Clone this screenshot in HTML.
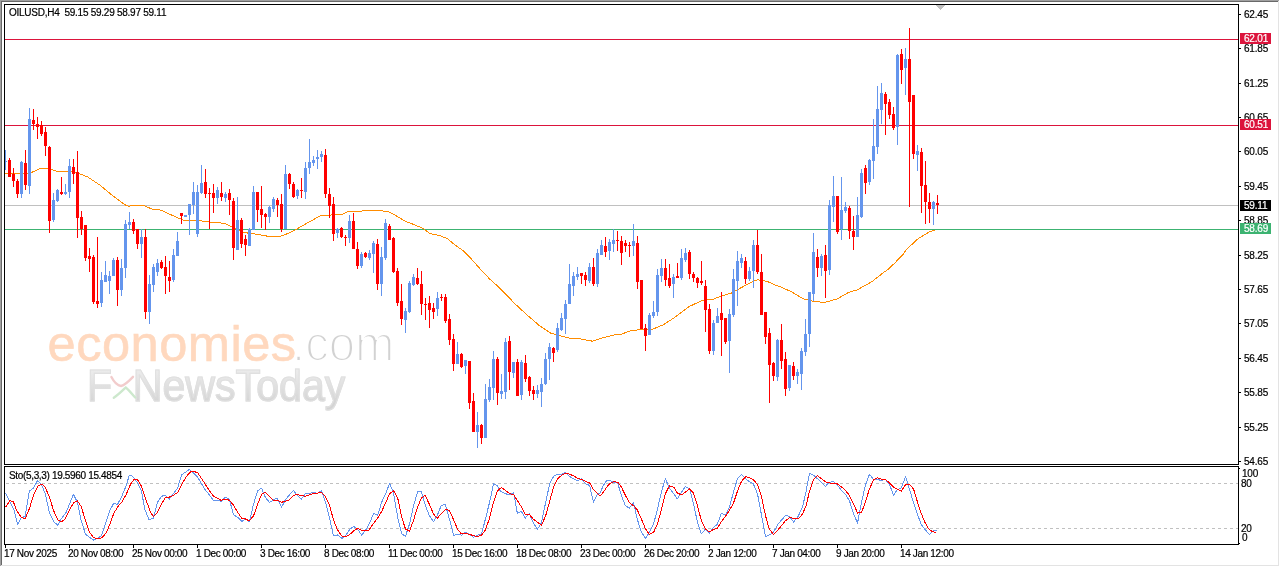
<!DOCTYPE html>
<html><head><meta charset="utf-8"><title>OILUSD,H4</title>
<style>
html,body{margin:0;padding:0;background:#fff;}
body{width:1280px;height:567px;position:relative;overflow:hidden;font-family:"Liberation Sans",sans-serif;}
.t{position:absolute;font-size:10px;line-height:12px;color:#000;white-space:pre;letter-spacing:-0.25px;-webkit-text-stroke:0.2px #000;}
.p{position:absolute;left:1244px;font-size:10px;line-height:12px;color:#000;letter-spacing:-0.2px;-webkit-text-stroke:0.2px #000;white-space:pre;}
.box{position:absolute;left:1240px;width:31px;height:11px;}
.box span{position:absolute;left:4px;top:0px;font-size:10px;line-height:12px;color:#fff;letter-spacing:-0.2px;-webkit-text-stroke:0.2px #fff;}
.wm{position:absolute;white-space:pre;transform-origin:0 0;}
</style></head><body>

<div class="wm" style="left:47.5px;top:316px;font-size:50.6px;line-height:56px;color:#ffd8be;-webkit-text-stroke:0.6px #ffd8be;letter-spacing:0.5px;">economies</div>
<div class="wm" style="left:292px;top:316px;font-size:50.6px;line-height:56px;color:#d2d2d2;-webkit-text-stroke:2.2px #fff;transform:scaleX(0.935);">.com</div>
<div class="wm" style="left:87px;top:361px;font-size:44px;line-height:50px;color:transparent;background:linear-gradient(#ebebeb 20%,#d4d4d4 85%);-webkit-background-clip:text;background-clip:text;-webkit-text-stroke:1.1px #e0e0e0;transform:scaleX(0.935);">F<span style="visibility:hidden">x</span>NewsToday</div>
<svg class="wm" style="left:108px;top:372px" width="30" height="30" viewBox="0 0 30 30"><path d="M3.4 5 C6 10,9 13.5,13 14 C17 13,21 9,25 4.8" fill="none" stroke="#f2cccc" stroke-width="2.4" stroke-linecap="round"/><path d="M5.8 25.8 C10 23,14 19,17.7 15.5 C21 18,24 22,27.2 25.5" fill="none" stroke="#cde8cd" stroke-width="2.4" stroke-linecap="round"/></svg>
<svg width="1280" height="567" viewBox="0 0 1280 567" style="position:absolute;left:0;top:0">
<g shape-rendering="crispEdges">
<rect x="5" y="39" width="1233" height="1" fill="#dc143c"/>
<rect x="5" y="125" width="1233" height="1" fill="#dc143c"/>
<rect x="5" y="205" width="1233" height="1" fill="#c0c0c0"/>
<rect x="5" y="229" width="1233" height="1" fill="#3cb371"/>
</g>
<polyline points="5.0,173.4 5.5,173.4 29.5,173.4 40.0,168.5 48.1,168.5 56.2,171.2 75.0,172.0 87.5,176.9 100.0,185.2 112.5,195.6 125.0,204.8 128.8,206.3 133.5,205.3 143.5,205.3 152.4,209.3 160.8,210.1 177.5,217.7 184.2,220.5 201.0,220.8 210.0,222.1 225.1,223.4 233.5,228.0 243.5,232.5 256.9,234.2 268.7,236.4 280.4,236.4 290.5,232.5 297.1,228.8 308.9,222.1 320.6,215.7 342.4,214.2 349.1,211.2 360.8,211.2 365.0,210.4 379.2,210.4 389.3,212.0 395.0,215.0 405.0,221.2 412.5,224.0 422.5,228.1 430.0,233.5 440.0,235.6 447.5,238.8 455.0,245.0 463.8,251.2 471.2,258.8 480.0,268.8 490.0,279.4 497.5,285.9 515.5,304.3 527.3,315.2 539.0,325.3 550.8,333.1 557.5,335.0 572.5,339.0 577.5,338.3 592.5,341.2 604.4,337.3 613.9,335.0 620.0,334.8 630.0,330.9 640.1,329.6 651.8,329.6 663.5,324.7 675.3,317.0 689.0,306.6 702.4,300.4 712.4,299.5 720.8,296.2 730.9,293.3 740.9,287.8 752.6,281.6 757.7,279.9 761.0,280.3 767.7,281.6 773.9,284.5 781.7,287.4 791.8,291.9 803.5,299.0 808.5,299.5 813.5,301.6 825.3,302.3 837.0,299.0 848.7,292.3 857.1,289.9 872.2,281.5 883.9,272.2 887.5,269.8 894.9,262.9 903.4,253.9 907.6,248.1 911.9,244.4 918.2,238.6 923.5,235.4 928.8,232.2 934.5,230.2" fill="none" stroke="#ff8c00" stroke-width="1" stroke-linejoin="round" shape-rendering="crispEdges"/>
<g shape-rendering="crispEdges">
<rect x="5" y="150" width="1" height="20" fill="#6495ed"/>
<rect x="4" y="161" width="3" height="1" fill="#6495ed"/>
<rect x="9" y="158" width="1" height="19" fill="#ff0000"/>
<rect x="8" y="160" width="3" height="17" fill="#ff0000"/>
<rect x="13" y="168" width="1" height="19" fill="#ff0000"/>
<rect x="12" y="174" width="3" height="7" fill="#ff0000"/>
<rect x="17" y="179" width="1" height="19" fill="#ff0000"/>
<rect x="16" y="181" width="3" height="13" fill="#ff0000"/>
<rect x="21" y="161" width="1" height="37" fill="#6495ed"/>
<rect x="20" y="162" width="3" height="32" fill="#6495ed"/>
<rect x="25" y="150" width="1" height="40" fill="#ff0000"/>
<rect x="24" y="163" width="3" height="22" fill="#ff0000"/>
<rect x="29" y="108" width="1" height="86" fill="#6495ed"/>
<rect x="28" y="119" width="3" height="67" fill="#6495ed"/>
<rect x="33" y="109" width="1" height="21" fill="#ff0000"/>
<rect x="32" y="120" width="3" height="4" fill="#ff0000"/>
<rect x="37" y="117" width="1" height="22" fill="#ff0000"/>
<rect x="36" y="124" width="3" height="3" fill="#ff0000"/>
<rect x="41" y="121" width="1" height="15" fill="#ff0000"/>
<rect x="40" y="125" width="3" height="9" fill="#ff0000"/>
<rect x="45" y="127" width="1" height="29" fill="#ff0000"/>
<rect x="44" y="132" width="3" height="14" fill="#ff0000"/>
<rect x="49" y="146" width="1" height="87" fill="#ff0000"/>
<rect x="48" y="147" width="3" height="74" fill="#ff0000"/>
<rect x="53" y="193" width="1" height="29" fill="#6495ed"/>
<rect x="52" y="200" width="3" height="20" fill="#6495ed"/>
<rect x="57" y="189" width="1" height="13" fill="#6495ed"/>
<rect x="56" y="190" width="3" height="11" fill="#6495ed"/>
<rect x="61" y="177" width="1" height="18" fill="#ff0000"/>
<rect x="60" y="192" width="3" height="2" fill="#ff0000"/>
<rect x="65" y="184" width="1" height="11" fill="#6495ed"/>
<rect x="64" y="192" width="3" height="2" fill="#6495ed"/>
<rect x="69" y="159" width="1" height="39" fill="#6495ed"/>
<rect x="68" y="166" width="3" height="26" fill="#6495ed"/>
<rect x="73" y="159" width="1" height="25" fill="#ff0000"/>
<rect x="72" y="167" width="3" height="7" fill="#ff0000"/>
<rect x="77" y="151" width="1" height="87" fill="#ff0000"/>
<rect x="76" y="172" width="3" height="46" fill="#ff0000"/>
<rect x="81" y="211" width="1" height="24" fill="#ff0000"/>
<rect x="80" y="217" width="3" height="12" fill="#ff0000"/>
<rect x="85" y="225" width="1" height="36" fill="#ff0000"/>
<rect x="84" y="225" width="3" height="33" fill="#ff0000"/>
<rect x="89" y="248" width="1" height="24" fill="#ff0000"/>
<rect x="88" y="256" width="3" height="3" fill="#ff0000"/>
<rect x="93" y="255" width="1" height="49" fill="#ff0000"/>
<rect x="92" y="257" width="3" height="45" fill="#ff0000"/>
<rect x="97" y="237" width="1" height="71" fill="#ff0000"/>
<rect x="96" y="301" width="3" height="3" fill="#ff0000"/>
<rect x="101" y="272" width="1" height="35" fill="#6495ed"/>
<rect x="100" y="280" width="3" height="23" fill="#6495ed"/>
<rect x="105" y="261" width="1" height="21" fill="#6495ed"/>
<rect x="104" y="275" width="3" height="7" fill="#6495ed"/>
<rect x="109" y="271" width="1" height="23" fill="#6495ed"/>
<rect x="108" y="276" width="3" height="5" fill="#6495ed"/>
<rect x="113" y="258" width="1" height="18" fill="#6495ed"/>
<rect x="112" y="260" width="3" height="16" fill="#6495ed"/>
<rect x="117" y="257" width="1" height="49" fill="#ff0000"/>
<rect x="116" y="260" width="3" height="30" fill="#ff0000"/>
<rect x="121" y="259" width="1" height="37" fill="#6495ed"/>
<rect x="120" y="268" width="3" height="22" fill="#6495ed"/>
<rect x="125" y="220" width="1" height="58" fill="#6495ed"/>
<rect x="124" y="224" width="3" height="44" fill="#6495ed"/>
<rect x="129" y="212" width="1" height="17" fill="#6495ed"/>
<rect x="128" y="222" width="3" height="3" fill="#6495ed"/>
<rect x="133" y="219" width="1" height="15" fill="#ff0000"/>
<rect x="132" y="222" width="3" height="9" fill="#ff0000"/>
<rect x="137" y="229" width="1" height="20" fill="#ff0000"/>
<rect x="136" y="229" width="3" height="15" fill="#ff0000"/>
<rect x="141" y="229" width="1" height="29" fill="#6495ed"/>
<rect x="140" y="237" width="3" height="7" fill="#6495ed"/>
<rect x="145" y="229" width="1" height="90" fill="#ff0000"/>
<rect x="144" y="237" width="3" height="75" fill="#ff0000"/>
<rect x="149" y="275" width="1" height="49" fill="#6495ed"/>
<rect x="148" y="284" width="3" height="28" fill="#6495ed"/>
<rect x="153" y="264" width="1" height="28" fill="#6495ed"/>
<rect x="152" y="267" width="3" height="18" fill="#6495ed"/>
<rect x="157" y="259" width="1" height="17" fill="#6495ed"/>
<rect x="156" y="263" width="3" height="9" fill="#6495ed"/>
<rect x="161" y="260" width="1" height="9" fill="#ff0000"/>
<rect x="160" y="262" width="3" height="6" fill="#ff0000"/>
<rect x="165" y="256" width="1" height="38" fill="#ff0000"/>
<rect x="164" y="267" width="3" height="9" fill="#ff0000"/>
<rect x="169" y="261" width="1" height="31" fill="#ff0000"/>
<rect x="168" y="277" width="3" height="4" fill="#ff0000"/>
<rect x="173" y="249" width="1" height="33" fill="#6495ed"/>
<rect x="172" y="255" width="3" height="25" fill="#6495ed"/>
<rect x="177" y="232" width="1" height="24" fill="#6495ed"/>
<rect x="176" y="241" width="3" height="15" fill="#6495ed"/>
<rect x="181" y="213" width="1" height="11" fill="#ff0000"/>
<rect x="180" y="213" width="3" height="3" fill="#ff0000"/>
<rect x="185" y="215" width="1" height="2" fill="#6495ed"/>
<rect x="184" y="215" width="3" height="2" fill="#6495ed"/>
<rect x="189" y="204" width="1" height="31" fill="#6495ed"/>
<rect x="188" y="204" width="3" height="11" fill="#6495ed"/>
<rect x="193" y="182" width="1" height="32" fill="#6495ed"/>
<rect x="192" y="192" width="3" height="13" fill="#6495ed"/>
<rect x="197" y="185" width="1" height="52" fill="#6495ed"/>
<rect x="196" y="192" width="3" height="42" fill="#6495ed"/>
<rect x="201" y="165" width="1" height="29" fill="#6495ed"/>
<rect x="200" y="183" width="3" height="10" fill="#6495ed"/>
<rect x="205" y="169" width="1" height="29" fill="#ff0000"/>
<rect x="204" y="182" width="3" height="12" fill="#ff0000"/>
<rect x="209" y="188" width="1" height="41" fill="#ff0000"/>
<rect x="208" y="193" width="3" height="1" fill="#ff0000"/>
<rect x="213" y="184" width="1" height="29" fill="#ff0000"/>
<rect x="212" y="193" width="3" height="5" fill="#ff0000"/>
<rect x="217" y="187" width="1" height="17" fill="#6495ed"/>
<rect x="216" y="190" width="3" height="8" fill="#6495ed"/>
<rect x="221" y="182" width="1" height="19" fill="#ff0000"/>
<rect x="220" y="193" width="3" height="4" fill="#ff0000"/>
<rect x="225" y="192" width="1" height="10" fill="#6495ed"/>
<rect x="224" y="194" width="3" height="4" fill="#6495ed"/>
<rect x="229" y="189" width="1" height="26" fill="#ff0000"/>
<rect x="228" y="193" width="3" height="7" fill="#ff0000"/>
<rect x="233" y="198" width="1" height="62" fill="#ff0000"/>
<rect x="232" y="201" width="3" height="47" fill="#ff0000"/>
<rect x="237" y="197" width="1" height="53" fill="#6495ed"/>
<rect x="236" y="220" width="3" height="30" fill="#6495ed"/>
<rect x="241" y="218" width="1" height="30" fill="#ff0000"/>
<rect x="240" y="220" width="3" height="24" fill="#ff0000"/>
<rect x="245" y="235" width="1" height="21" fill="#ff0000"/>
<rect x="244" y="239" width="3" height="6" fill="#ff0000"/>
<rect x="249" y="228" width="1" height="18" fill="#6495ed"/>
<rect x="248" y="229" width="3" height="17" fill="#6495ed"/>
<rect x="253" y="186" width="1" height="44" fill="#6495ed"/>
<rect x="252" y="192" width="3" height="38" fill="#6495ed"/>
<rect x="257" y="192" width="1" height="30" fill="#ff0000"/>
<rect x="256" y="192" width="3" height="18" fill="#ff0000"/>
<rect x="261" y="186" width="1" height="42" fill="#ff0000"/>
<rect x="260" y="209" width="3" height="6" fill="#ff0000"/>
<rect x="265" y="213" width="1" height="17" fill="#ff0000"/>
<rect x="264" y="214" width="3" height="3" fill="#ff0000"/>
<rect x="269" y="206" width="1" height="17" fill="#6495ed"/>
<rect x="268" y="207" width="3" height="10" fill="#6495ed"/>
<rect x="273" y="197" width="1" height="15" fill="#6495ed"/>
<rect x="272" y="199" width="3" height="10" fill="#6495ed"/>
<rect x="277" y="198" width="1" height="19" fill="#ff0000"/>
<rect x="276" y="200" width="3" height="5" fill="#ff0000"/>
<rect x="281" y="194" width="1" height="38" fill="#ff0000"/>
<rect x="280" y="204" width="3" height="25" fill="#ff0000"/>
<rect x="285" y="165" width="1" height="64" fill="#6495ed"/>
<rect x="284" y="174" width="3" height="55" fill="#6495ed"/>
<rect x="289" y="173" width="1" height="16" fill="#ff0000"/>
<rect x="288" y="174" width="3" height="10" fill="#ff0000"/>
<rect x="293" y="182" width="1" height="16" fill="#ff0000"/>
<rect x="292" y="184" width="3" height="13" fill="#ff0000"/>
<rect x="297" y="189" width="1" height="10" fill="#6495ed"/>
<rect x="296" y="190" width="3" height="6" fill="#6495ed"/>
<rect x="301" y="178" width="1" height="20" fill="#ff0000"/>
<rect x="300" y="190" width="3" height="1" fill="#ff0000"/>
<rect x="305" y="162" width="1" height="37" fill="#6495ed"/>
<rect x="304" y="168" width="3" height="24" fill="#6495ed"/>
<rect x="309" y="139" width="1" height="35" fill="#6495ed"/>
<rect x="308" y="162" width="3" height="6" fill="#6495ed"/>
<rect x="313" y="156" width="1" height="10" fill="#6495ed"/>
<rect x="312" y="160" width="3" height="3" fill="#6495ed"/>
<rect x="317" y="150" width="1" height="19" fill="#6495ed"/>
<rect x="316" y="157" width="3" height="2" fill="#6495ed"/>
<rect x="321" y="151" width="1" height="11" fill="#6495ed"/>
<rect x="320" y="154" width="3" height="3" fill="#6495ed"/>
<rect x="325" y="149" width="1" height="49" fill="#ff0000"/>
<rect x="324" y="155" width="3" height="39" fill="#ff0000"/>
<rect x="329" y="188" width="1" height="30" fill="#ff0000"/>
<rect x="328" y="194" width="3" height="12" fill="#ff0000"/>
<rect x="333" y="197" width="1" height="44" fill="#ff0000"/>
<rect x="332" y="204" width="3" height="30" fill="#ff0000"/>
<rect x="337" y="228" width="1" height="10" fill="#6495ed"/>
<rect x="336" y="229" width="3" height="4" fill="#6495ed"/>
<rect x="341" y="227" width="1" height="11" fill="#ff0000"/>
<rect x="340" y="228" width="3" height="9" fill="#ff0000"/>
<rect x="345" y="235" width="1" height="11" fill="#ff0000"/>
<rect x="344" y="237" width="3" height="1" fill="#ff0000"/>
<rect x="349" y="215" width="1" height="28" fill="#6495ed"/>
<rect x="348" y="221" width="3" height="17" fill="#6495ed"/>
<rect x="353" y="213" width="1" height="36" fill="#ff0000"/>
<rect x="352" y="221" width="3" height="28" fill="#ff0000"/>
<rect x="357" y="242" width="1" height="27" fill="#ff0000"/>
<rect x="356" y="249" width="3" height="17" fill="#ff0000"/>
<rect x="361" y="252" width="1" height="16" fill="#6495ed"/>
<rect x="360" y="254" width="3" height="12" fill="#6495ed"/>
<rect x="365" y="252" width="1" height="6" fill="#ff0000"/>
<rect x="364" y="253" width="3" height="4" fill="#ff0000"/>
<rect x="369" y="250" width="1" height="10" fill="#6495ed"/>
<rect x="368" y="253" width="3" height="5" fill="#6495ed"/>
<rect x="373" y="241" width="1" height="32" fill="#6495ed"/>
<rect x="372" y="243" width="3" height="11" fill="#6495ed"/>
<rect x="377" y="239" width="1" height="51" fill="#ff0000"/>
<rect x="376" y="244" width="3" height="40" fill="#ff0000"/>
<rect x="381" y="247" width="1" height="49" fill="#6495ed"/>
<rect x="380" y="257" width="3" height="27" fill="#6495ed"/>
<rect x="385" y="219" width="1" height="41" fill="#6495ed"/>
<rect x="384" y="223" width="3" height="35" fill="#6495ed"/>
<rect x="389" y="224" width="1" height="16" fill="#ff0000"/>
<rect x="388" y="226" width="3" height="14" fill="#ff0000"/>
<rect x="393" y="237" width="1" height="36" fill="#ff0000"/>
<rect x="392" y="238" width="3" height="34" fill="#ff0000"/>
<rect x="397" y="268" width="1" height="38" fill="#ff0000"/>
<rect x="396" y="271" width="3" height="32" fill="#ff0000"/>
<rect x="401" y="284" width="1" height="41" fill="#ff0000"/>
<rect x="400" y="301" width="3" height="18" fill="#ff0000"/>
<rect x="405" y="308" width="1" height="25" fill="#6495ed"/>
<rect x="404" y="311" width="3" height="9" fill="#6495ed"/>
<rect x="409" y="281" width="1" height="32" fill="#6495ed"/>
<rect x="408" y="283" width="3" height="29" fill="#6495ed"/>
<rect x="413" y="274" width="1" height="12" fill="#6495ed"/>
<rect x="412" y="277" width="3" height="8" fill="#6495ed"/>
<rect x="417" y="268" width="1" height="17" fill="#ff0000"/>
<rect x="416" y="278" width="3" height="6" fill="#ff0000"/>
<rect x="421" y="271" width="1" height="44" fill="#ff0000"/>
<rect x="420" y="284" width="3" height="20" fill="#ff0000"/>
<rect x="425" y="298" width="1" height="22" fill="#ff0000"/>
<rect x="424" y="304" width="3" height="1" fill="#ff0000"/>
<rect x="429" y="296" width="1" height="32" fill="#ff0000"/>
<rect x="428" y="303" width="3" height="7" fill="#ff0000"/>
<rect x="433" y="303" width="1" height="16" fill="#ff0000"/>
<rect x="432" y="308" width="3" height="4" fill="#ff0000"/>
<rect x="437" y="292" width="1" height="24" fill="#6495ed"/>
<rect x="436" y="298" width="3" height="11" fill="#6495ed"/>
<rect x="441" y="294" width="1" height="7" fill="#ff0000"/>
<rect x="440" y="297" width="3" height="1" fill="#ff0000"/>
<rect x="445" y="294" width="1" height="29" fill="#ff0000"/>
<rect x="444" y="297" width="3" height="24" fill="#ff0000"/>
<rect x="449" y="314" width="1" height="31" fill="#ff0000"/>
<rect x="448" y="319" width="3" height="21" fill="#ff0000"/>
<rect x="453" y="334" width="1" height="37" fill="#ff0000"/>
<rect x="452" y="339" width="3" height="25" fill="#ff0000"/>
<rect x="457" y="342" width="1" height="22" fill="#6495ed"/>
<rect x="456" y="354" width="3" height="10" fill="#6495ed"/>
<rect x="461" y="353" width="1" height="15" fill="#ff0000"/>
<rect x="460" y="354" width="3" height="13" fill="#ff0000"/>
<rect x="465" y="360" width="1" height="14" fill="#6495ed"/>
<rect x="464" y="360" width="3" height="6" fill="#6495ed"/>
<rect x="469" y="361" width="1" height="48" fill="#ff0000"/>
<rect x="468" y="361" width="3" height="42" fill="#ff0000"/>
<rect x="473" y="393" width="1" height="39" fill="#ff0000"/>
<rect x="472" y="401" width="3" height="31" fill="#ff0000"/>
<rect x="477" y="412" width="1" height="36" fill="#6495ed"/>
<rect x="476" y="425" width="3" height="7" fill="#6495ed"/>
<rect x="481" y="424" width="1" height="20" fill="#ff0000"/>
<rect x="480" y="425" width="3" height="13" fill="#ff0000"/>
<rect x="485" y="384" width="1" height="54" fill="#6495ed"/>
<rect x="484" y="399" width="3" height="39" fill="#6495ed"/>
<rect x="489" y="379" width="1" height="23" fill="#6495ed"/>
<rect x="488" y="387" width="3" height="13" fill="#6495ed"/>
<rect x="493" y="351" width="1" height="49" fill="#6495ed"/>
<rect x="492" y="359" width="3" height="29" fill="#6495ed"/>
<rect x="497" y="357" width="1" height="48" fill="#ff0000"/>
<rect x="496" y="359" width="3" height="34" fill="#ff0000"/>
<rect x="501" y="374" width="1" height="25" fill="#6495ed"/>
<rect x="500" y="391" width="3" height="3" fill="#6495ed"/>
<rect x="505" y="338" width="1" height="61" fill="#6495ed"/>
<rect x="504" y="342" width="3" height="50" fill="#6495ed"/>
<rect x="509" y="336" width="1" height="54" fill="#ff0000"/>
<rect x="508" y="341" width="3" height="31" fill="#ff0000"/>
<rect x="513" y="362" width="1" height="16" fill="#6495ed"/>
<rect x="512" y="362" width="3" height="11" fill="#6495ed"/>
<rect x="517" y="359" width="1" height="37" fill="#ff0000"/>
<rect x="516" y="362" width="3" height="34" fill="#ff0000"/>
<rect x="521" y="360" width="1" height="40" fill="#6495ed"/>
<rect x="520" y="362" width="3" height="33" fill="#6495ed"/>
<rect x="525" y="355" width="1" height="27" fill="#ff0000"/>
<rect x="524" y="363" width="3" height="16" fill="#ff0000"/>
<rect x="529" y="376" width="1" height="20" fill="#ff0000"/>
<rect x="528" y="377" width="3" height="14" fill="#ff0000"/>
<rect x="533" y="386" width="1" height="14" fill="#ff0000"/>
<rect x="532" y="390" width="3" height="4" fill="#ff0000"/>
<rect x="537" y="385" width="1" height="13" fill="#6495ed"/>
<rect x="536" y="390" width="3" height="4" fill="#6495ed"/>
<rect x="541" y="378" width="1" height="29" fill="#6495ed"/>
<rect x="540" y="384" width="3" height="8" fill="#6495ed"/>
<rect x="545" y="353" width="1" height="32" fill="#6495ed"/>
<rect x="544" y="359" width="3" height="25" fill="#6495ed"/>
<rect x="549" y="343" width="1" height="37" fill="#6495ed"/>
<rect x="548" y="347" width="3" height="12" fill="#6495ed"/>
<rect x="553" y="347" width="1" height="15" fill="#ff0000"/>
<rect x="552" y="348" width="3" height="5" fill="#ff0000"/>
<rect x="557" y="323" width="1" height="29" fill="#6495ed"/>
<rect x="556" y="328" width="3" height="22" fill="#6495ed"/>
<rect x="561" y="313" width="1" height="18" fill="#6495ed"/>
<rect x="560" y="318" width="3" height="12" fill="#6495ed"/>
<rect x="565" y="300" width="1" height="34" fill="#6495ed"/>
<rect x="564" y="304" width="3" height="15" fill="#6495ed"/>
<rect x="569" y="264" width="1" height="40" fill="#6495ed"/>
<rect x="568" y="284" width="3" height="20" fill="#6495ed"/>
<rect x="573" y="272" width="1" height="24" fill="#6495ed"/>
<rect x="572" y="276" width="3" height="10" fill="#6495ed"/>
<rect x="577" y="267" width="1" height="13" fill="#6495ed"/>
<rect x="576" y="274" width="3" height="3" fill="#6495ed"/>
<rect x="581" y="273" width="1" height="11" fill="#ff0000"/>
<rect x="580" y="273" width="3" height="3" fill="#ff0000"/>
<rect x="585" y="272" width="1" height="14" fill="#ff0000"/>
<rect x="584" y="275" width="3" height="5" fill="#ff0000"/>
<rect x="589" y="263" width="1" height="20" fill="#6495ed"/>
<rect x="588" y="267" width="3" height="14" fill="#6495ed"/>
<rect x="593" y="258" width="1" height="28" fill="#ff0000"/>
<rect x="592" y="267" width="3" height="17" fill="#ff0000"/>
<rect x="597" y="249" width="1" height="38" fill="#6495ed"/>
<rect x="596" y="253" width="3" height="31" fill="#6495ed"/>
<rect x="601" y="240" width="1" height="15" fill="#6495ed"/>
<rect x="600" y="245" width="3" height="10" fill="#6495ed"/>
<rect x="605" y="237" width="1" height="20" fill="#ff0000"/>
<rect x="604" y="246" width="3" height="6" fill="#ff0000"/>
<rect x="609" y="239" width="1" height="21" fill="#6495ed"/>
<rect x="608" y="242" width="3" height="9" fill="#6495ed"/>
<rect x="613" y="229" width="1" height="23" fill="#6495ed"/>
<rect x="612" y="240" width="3" height="4" fill="#6495ed"/>
<rect x="617" y="231" width="1" height="20" fill="#ff0000"/>
<rect x="616" y="240" width="3" height="1" fill="#ff0000"/>
<rect x="621" y="236" width="1" height="29" fill="#ff0000"/>
<rect x="620" y="241" width="3" height="12" fill="#ff0000"/>
<rect x="625" y="240" width="1" height="12" fill="#ff0000"/>
<rect x="624" y="243" width="3" height="3" fill="#ff0000"/>
<rect x="629" y="242" width="1" height="15" fill="#ff0000"/>
<rect x="628" y="245" width="3" height="1" fill="#ff0000"/>
<rect x="633" y="224" width="1" height="32" fill="#6495ed"/>
<rect x="632" y="241" width="3" height="5" fill="#6495ed"/>
<rect x="637" y="236" width="1" height="53" fill="#ff0000"/>
<rect x="636" y="243" width="3" height="39" fill="#ff0000"/>
<rect x="641" y="280" width="1" height="49" fill="#ff0000"/>
<rect x="640" y="280" width="3" height="49" fill="#ff0000"/>
<rect x="645" y="324" width="1" height="27" fill="#ff0000"/>
<rect x="644" y="328" width="3" height="8" fill="#ff0000"/>
<rect x="649" y="313" width="1" height="22" fill="#6495ed"/>
<rect x="648" y="315" width="3" height="20" fill="#6495ed"/>
<rect x="653" y="301" width="1" height="17" fill="#6495ed"/>
<rect x="652" y="312" width="3" height="4" fill="#6495ed"/>
<rect x="657" y="269" width="1" height="47" fill="#6495ed"/>
<rect x="656" y="275" width="3" height="37" fill="#6495ed"/>
<rect x="661" y="259" width="1" height="23" fill="#6495ed"/>
<rect x="660" y="268" width="3" height="8" fill="#6495ed"/>
<rect x="665" y="259" width="1" height="27" fill="#ff0000"/>
<rect x="664" y="268" width="3" height="12" fill="#ff0000"/>
<rect x="669" y="264" width="1" height="24" fill="#ff0000"/>
<rect x="668" y="278" width="3" height="8" fill="#ff0000"/>
<rect x="673" y="274" width="1" height="24" fill="#6495ed"/>
<rect x="672" y="277" width="3" height="7" fill="#6495ed"/>
<rect x="677" y="263" width="1" height="15" fill="#ff0000"/>
<rect x="676" y="276" width="3" height="2" fill="#ff0000"/>
<rect x="681" y="249" width="1" height="31" fill="#6495ed"/>
<rect x="680" y="258" width="3" height="20" fill="#6495ed"/>
<rect x="685" y="248" width="1" height="14" fill="#6495ed"/>
<rect x="684" y="253" width="3" height="7" fill="#6495ed"/>
<rect x="689" y="250" width="1" height="29" fill="#ff0000"/>
<rect x="688" y="252" width="3" height="22" fill="#ff0000"/>
<rect x="693" y="272" width="1" height="10" fill="#ff0000"/>
<rect x="692" y="274" width="3" height="4" fill="#ff0000"/>
<rect x="697" y="277" width="1" height="11" fill="#ff0000"/>
<rect x="696" y="278" width="3" height="5" fill="#ff0000"/>
<rect x="701" y="261" width="1" height="24" fill="#ff0000"/>
<rect x="700" y="281" width="3" height="2" fill="#ff0000"/>
<rect x="705" y="280" width="1" height="52" fill="#ff0000"/>
<rect x="704" y="286" width="3" height="24" fill="#ff0000"/>
<rect x="709" y="304" width="1" height="50" fill="#ff0000"/>
<rect x="708" y="309" width="3" height="42" fill="#ff0000"/>
<rect x="713" y="320" width="1" height="35" fill="#6495ed"/>
<rect x="712" y="323" width="3" height="28" fill="#6495ed"/>
<rect x="717" y="308" width="1" height="15" fill="#6495ed"/>
<rect x="716" y="316" width="3" height="7" fill="#6495ed"/>
<rect x="721" y="292" width="1" height="64" fill="#ff0000"/>
<rect x="720" y="313" width="3" height="7" fill="#ff0000"/>
<rect x="725" y="318" width="1" height="26" fill="#ff0000"/>
<rect x="724" y="318" width="3" height="24" fill="#ff0000"/>
<rect x="729" y="309" width="1" height="64" fill="#6495ed"/>
<rect x="728" y="314" width="3" height="27" fill="#6495ed"/>
<rect x="733" y="269" width="1" height="48" fill="#6495ed"/>
<rect x="732" y="279" width="3" height="36" fill="#6495ed"/>
<rect x="737" y="251" width="1" height="55" fill="#6495ed"/>
<rect x="736" y="261" width="3" height="20" fill="#6495ed"/>
<rect x="741" y="254" width="1" height="14" fill="#6495ed"/>
<rect x="740" y="258" width="3" height="5" fill="#6495ed"/>
<rect x="745" y="257" width="1" height="27" fill="#ff0000"/>
<rect x="744" y="261" width="3" height="18" fill="#ff0000"/>
<rect x="749" y="267" width="1" height="14" fill="#6495ed"/>
<rect x="748" y="271" width="3" height="8" fill="#6495ed"/>
<rect x="753" y="240" width="1" height="48" fill="#6495ed"/>
<rect x="752" y="245" width="3" height="26" fill="#6495ed"/>
<rect x="757" y="230" width="1" height="44" fill="#ff0000"/>
<rect x="756" y="245" width="3" height="27" fill="#ff0000"/>
<rect x="761" y="254" width="1" height="61" fill="#ff0000"/>
<rect x="760" y="272" width="3" height="43" fill="#ff0000"/>
<rect x="765" y="312" width="1" height="32" fill="#ff0000"/>
<rect x="764" y="312" width="3" height="25" fill="#ff0000"/>
<rect x="769" y="328" width="1" height="75" fill="#ff0000"/>
<rect x="768" y="333" width="3" height="32" fill="#ff0000"/>
<rect x="773" y="362" width="1" height="19" fill="#ff0000"/>
<rect x="772" y="363" width="3" height="13" fill="#ff0000"/>
<rect x="777" y="339" width="1" height="42" fill="#6495ed"/>
<rect x="776" y="340" width="3" height="37" fill="#6495ed"/>
<rect x="781" y="324" width="1" height="45" fill="#ff0000"/>
<rect x="780" y="340" width="3" height="21" fill="#ff0000"/>
<rect x="785" y="352" width="1" height="44" fill="#ff0000"/>
<rect x="784" y="359" width="3" height="30" fill="#ff0000"/>
<rect x="789" y="365" width="1" height="26" fill="#6495ed"/>
<rect x="788" y="365" width="3" height="23" fill="#6495ed"/>
<rect x="793" y="362" width="1" height="18" fill="#ff0000"/>
<rect x="792" y="366" width="3" height="10" fill="#ff0000"/>
<rect x="797" y="369" width="1" height="15" fill="#6495ed"/>
<rect x="796" y="372" width="3" height="4" fill="#6495ed"/>
<rect x="801" y="348" width="1" height="42" fill="#6495ed"/>
<rect x="800" y="351" width="3" height="23" fill="#6495ed"/>
<rect x="805" y="319" width="1" height="37" fill="#6495ed"/>
<rect x="804" y="334" width="3" height="18" fill="#6495ed"/>
<rect x="809" y="292" width="1" height="55" fill="#6495ed"/>
<rect x="808" y="292" width="3" height="42" fill="#6495ed"/>
<rect x="813" y="233" width="1" height="68" fill="#6495ed"/>
<rect x="812" y="252" width="3" height="42" fill="#6495ed"/>
<rect x="817" y="249" width="1" height="28" fill="#ff0000"/>
<rect x="816" y="257" width="3" height="11" fill="#ff0000"/>
<rect x="821" y="254" width="1" height="22" fill="#6495ed"/>
<rect x="820" y="256" width="3" height="12" fill="#6495ed"/>
<rect x="825" y="245" width="1" height="53" fill="#ff0000"/>
<rect x="824" y="255" width="3" height="16" fill="#ff0000"/>
<rect x="829" y="200" width="1" height="75" fill="#6495ed"/>
<rect x="828" y="205" width="3" height="65" fill="#6495ed"/>
<rect x="833" y="176" width="1" height="46" fill="#6495ed"/>
<rect x="832" y="196" width="3" height="11" fill="#6495ed"/>
<rect x="837" y="196" width="1" height="38" fill="#ff0000"/>
<rect x="836" y="196" width="3" height="36" fill="#ff0000"/>
<rect x="841" y="177" width="1" height="63" fill="#6495ed"/>
<rect x="840" y="210" width="3" height="19" fill="#6495ed"/>
<rect x="845" y="202" width="1" height="11" fill="#6495ed"/>
<rect x="844" y="207" width="3" height="4" fill="#6495ed"/>
<rect x="849" y="206" width="1" height="33" fill="#ff0000"/>
<rect x="848" y="208" width="3" height="23" fill="#ff0000"/>
<rect x="853" y="216" width="1" height="34" fill="#ff0000"/>
<rect x="852" y="231" width="3" height="6" fill="#ff0000"/>
<rect x="857" y="197" width="1" height="40" fill="#6495ed"/>
<rect x="856" y="215" width="3" height="22" fill="#6495ed"/>
<rect x="861" y="169" width="1" height="49" fill="#6495ed"/>
<rect x="860" y="173" width="3" height="44" fill="#6495ed"/>
<rect x="865" y="165" width="1" height="29" fill="#ff0000"/>
<rect x="864" y="168" width="3" height="15" fill="#ff0000"/>
<rect x="869" y="159" width="1" height="26" fill="#6495ed"/>
<rect x="868" y="160" width="3" height="22" fill="#6495ed"/>
<rect x="873" y="119" width="1" height="60" fill="#6495ed"/>
<rect x="872" y="146" width="3" height="15" fill="#6495ed"/>
<rect x="877" y="86" width="1" height="68" fill="#6495ed"/>
<rect x="876" y="109" width="3" height="38" fill="#6495ed"/>
<rect x="881" y="83" width="1" height="41" fill="#6495ed"/>
<rect x="880" y="93" width="3" height="17" fill="#6495ed"/>
<rect x="885" y="92" width="1" height="43" fill="#ff0000"/>
<rect x="884" y="94" width="3" height="10" fill="#ff0000"/>
<rect x="889" y="99" width="1" height="20" fill="#ff0000"/>
<rect x="888" y="102" width="3" height="13" fill="#ff0000"/>
<rect x="893" y="107" width="1" height="23" fill="#ff0000"/>
<rect x="892" y="114" width="3" height="14" fill="#ff0000"/>
<rect x="897" y="54" width="1" height="91" fill="#6495ed"/>
<rect x="896" y="55" width="3" height="72" fill="#6495ed"/>
<rect x="901" y="49" width="1" height="35" fill="#ff0000"/>
<rect x="900" y="54" width="3" height="16" fill="#ff0000"/>
<rect x="905" y="48" width="1" height="47" fill="#6495ed"/>
<rect x="904" y="59" width="3" height="9" fill="#6495ed"/>
<rect x="909" y="28" width="1" height="179" fill="#ff0000"/>
<rect x="908" y="59" width="3" height="43" fill="#ff0000"/>
<rect x="913" y="95" width="1" height="64" fill="#ff0000"/>
<rect x="912" y="95" width="3" height="59" fill="#ff0000"/>
<rect x="917" y="145" width="1" height="26" fill="#6495ed"/>
<rect x="916" y="151" width="3" height="4" fill="#6495ed"/>
<rect x="921" y="148" width="1" height="65" fill="#ff0000"/>
<rect x="920" y="152" width="3" height="34" fill="#ff0000"/>
<rect x="925" y="161" width="1" height="63" fill="#ff0000"/>
<rect x="924" y="185" width="3" height="17" fill="#ff0000"/>
<rect x="929" y="193" width="1" height="30" fill="#ff0000"/>
<rect x="928" y="202" width="3" height="7" fill="#ff0000"/>
<rect x="933" y="201" width="1" height="24" fill="#6495ed"/>
<rect x="932" y="202" width="3" height="7" fill="#6495ed"/>
<rect x="937" y="195" width="1" height="19" fill="#ff0000"/>
<rect x="936" y="203" width="3" height="2" fill="#ff0000"/>
</g>
<g shape-rendering="crispEdges">
<line x1="6" y1="483.5" x2="1238" y2="483.5" stroke="#c0c0c0" stroke-width="1" stroke-dasharray="3 3"/>
<line x1="6" y1="528.5" x2="1238" y2="528.5" stroke="#c0c0c0" stroke-width="1" stroke-dasharray="3 3"/>
</g>
<polyline points="5.5,493.0 10.1,502.2 14.2,510.6 17.6,524.3 20.9,518.1 25.1,516.4 29.3,491.3 33.5,488.0 37.7,480.4 41.9,485.5 45.2,493.8 49.4,512.3 53.6,521.5 57.8,525.3 61.1,519.0 66.2,512.3 69.5,503.9 73.4,494.3 77.4,502.2 81.2,520.6 85.4,534.0 89.6,537.4 93.8,540.2 98.0,538.2 101.3,535.7 105.5,524.0 109.7,510.6 113.9,503.0 117.3,504.7 121.4,497.2 125.6,487.1 129.3,475.4 132.3,476.2 136.5,481.3 141.5,491.3 144.9,509.7 149.1,519.8 153.3,518.1 157.5,502.2 161.6,496.3 165.0,495.2 169.2,499.2 173.4,493.8 177.6,488.0 181.7,474.6 185.9,472.1 189.3,469.5 193.5,472.9 197.7,477.1 200.0,481.3 205.0,489.6 209.2,494.7 213.4,500.2 217.6,500.2 220.9,501.4 225.1,497.2 229.3,499.2 233.5,514.8 237.7,517.3 241.9,521.5 245.6,519.0 249.4,522.0 253.6,503.9 257.8,490.5 261.6,488.3 265.3,497.2 269.5,502.5 273.7,499.7 277.1,498.0 281.6,507.2 285.4,499.7 289.6,494.7 293.5,490.5 297.2,495.5 301.3,499.2 305.5,493.3 309.7,493.3 313.9,492.2 317.3,493.8 321.4,490.5 325.3,501.4 329.3,517.3 333.5,535.7 337.4,534.9 342.0,538.5 345.7,535.7 349.9,529.0 353.8,526.5 357.5,529.0 361.6,535.2 365.8,529.8 369.2,524.0 373.7,513.1 377.6,515.6 381.7,502.2 385.9,493.0 389.6,483.3 393.5,493.0 397.7,517.3 401.7,534.0 405.5,536.2 409.5,524.0 413.4,506.4 417.6,491.6 421.4,491.6 425.1,504.7 429.3,515.6 433.5,521.5 437.2,515.6 441.0,505.9 445.2,504.2 449.4,519.0 453.6,535.2 457.8,534.4 461.6,535.2 465.3,532.4 469.5,534.4 473.7,537.4 477.4,535.2 481.6,534.0 485.4,519.0 489.6,502.2 493.5,483.8 497.2,485.5 500.5,491.3 505.5,493.8 509.7,494.7 513.6,492.5 517.3,513.1 521.4,511.4 525.3,518.1 529.3,513.6 533.5,523.1 537.4,529.3 541.5,522.6 545.7,502.2 549.9,482.9 553.8,476.2 557.5,474.1 561.6,474.1 565.3,472.4 569.2,476.2 573.4,478.8 577.6,480.8 581.7,478.8 585.6,483.8 589.6,485.5 593.5,502.2 597.7,493.8 600.0,493.0 603.4,485.5 606.7,480.4 610.1,480.4 613.4,482.1 617.6,482.9 621.4,495.5 625.5,505.9 629.3,508.1 633.5,502.7 637.2,519.0 641.4,532.4 645.6,538.2 649.4,532.4 653.6,524.0 657.5,508.9 661.6,491.3 665.3,478.8 669.5,488.0 673.7,493.8 677.4,498.9 681.6,492.2 685.4,486.6 689.6,488.8 693.5,503.9 697.5,522.3 701.3,534.0 705.5,529.0 709.4,533.2 713.6,527.3 717.3,524.3 721.4,513.1 725.3,515.3 729.3,507.2 733.5,492.2 737.4,478.8 741.5,474.6 745.7,478.8 749.9,482.1 753.3,483.8 757.5,493.8 761.6,515.6 765.5,537.0 769.2,534.9 773.4,532.4 777.6,524.8 781.7,519.8 785.6,515.6 789.6,516.4 793.5,522.0 797.7,517.3 800.0,512.3 802.5,507.2 805.9,492.2 809.5,473.4 813.4,475.1 817.6,478.8 821.4,482.1 825.5,486.3 829.3,482.1 833.5,481.8 837.2,484.6 841.4,490.5 845.6,494.7 849.4,500.5 853.6,513.9 857.5,523.1 861.6,502.2 865.3,485.5 869.5,474.2 873.7,479.6 877.4,479.6 881.6,480.4 885.4,479.6 889.6,484.6 893.5,495.2 897.5,489.6 901.3,488.0 905.5,476.7 909.4,488.8 913.6,503.0 917.3,513.9 921.4,524.8 925.3,529.8 929.3,534.4 933.5,531.0 936.5,530.3" fill="none" stroke="#6495ed" stroke-width="1" stroke-linejoin="round" shape-rendering="crispEdges"/>
<polyline points="5.5,507.2 10.1,500.5 13.4,501.9 16.8,510.6 20.9,516.8 25.1,519.0 29.3,508.9 33.5,495.5 37.7,486.3 41.9,484.1 45.2,487.1 49.4,497.2 53.6,510.6 57.8,519.8 61.1,521.8 64.5,519.8 68.7,511.4 73.7,502.5 77.4,500.9 81.2,506.4 85.4,520.6 89.6,532.4 93.8,537.7 98.0,539.1 102.2,537.7 106.4,532.4 109.7,524.8 113.9,513.1 118.1,506.4 122.3,501.4 126.5,493.8 130.7,483.8 134.0,479.6 137.4,479.6 141.5,486.3 145.7,498.9 149.9,510.6 153.3,516.9 157.5,512.3 161.6,503.9 165.0,498.0 169.2,497.2 173.4,495.2 177.6,492.5 181.7,484.6 185.9,477.1 190.1,472.1 193.5,471.2 197.7,472.9 200.0,476.2 205.0,483.8 209.2,490.5 213.4,496.0 217.6,498.3 220.9,500.2 225.1,499.2 229.3,500.2 233.5,505.2 237.7,512.3 241.9,518.4 245.6,519.0 249.4,521.0 253.6,515.6 257.8,503.9 261.6,494.3 265.3,492.5 269.5,496.3 273.7,500.5 277.9,500.5 281.6,502.2 285.4,501.4 289.6,499.7 293.8,495.2 297.2,494.7 301.3,495.5 305.5,496.3 309.7,494.7 313.9,493.3 317.3,493.3 321.4,492.2 325.3,496.3 329.3,504.7 333.5,519.8 337.4,529.8 342.0,536.2 345.7,537.0 349.9,534.4 353.8,530.7 357.5,528.5 361.6,530.3 365.8,531.0 369.2,529.8 373.7,523.1 377.6,518.1 381.7,511.4 385.9,502.2 389.6,493.8 393.5,490.5 397.7,498.0 401.7,517.3 405.5,529.0 409.5,531.0 413.4,520.6 417.6,507.2 421.4,498.0 425.1,495.2 429.3,504.2 433.5,513.9 437.2,518.4 441.0,513.9 445.2,509.7 449.4,510.2 453.6,519.8 457.8,529.8 461.6,534.0 465.3,533.2 469.5,534.4 473.7,535.7 477.4,536.5 481.6,535.2 485.4,529.8 489.6,518.1 493.5,502.2 497.2,491.3 501.3,487.5 505.5,490.5 509.7,493.8 513.6,494.7 517.3,500.5 521.4,506.9 525.3,514.3 529.3,514.3 533.5,519.3 537.4,522.3 541.5,525.3 545.7,515.6 549.9,500.5 553.8,486.3 557.5,478.8 561.6,475.4 565.3,473.4 569.2,474.1 573.4,475.7 577.6,478.4 581.7,479.6 585.6,481.3 589.6,482.9 593.5,489.6 597.7,493.8 600.0,496.3 603.4,492.2 606.7,487.1 610.1,483.4 613.4,481.8 617.6,482.1 621.4,487.1 625.5,495.5 629.3,502.7 633.5,505.6 637.2,509.7 641.4,519.0 645.6,529.0 649.4,534.4 653.6,532.4 657.5,524.0 661.6,508.9 665.3,493.8 669.5,485.8 673.7,487.1 677.4,493.0 681.6,495.0 685.4,492.2 689.6,488.8 693.5,493.0 697.5,505.6 701.3,520.6 705.5,529.0 709.4,532.0 713.6,529.3 717.3,528.2 721.4,521.5 725.3,516.4 729.3,510.6 733.5,503.0 737.4,491.3 741.5,481.3 745.7,476.7 749.9,477.9 753.3,479.6 757.5,484.6 761.6,497.2 765.5,515.6 769.2,529.0 773.4,534.4 777.6,530.3 781.7,525.3 785.6,520.6 789.6,517.6 793.5,518.4 797.7,519.0 800.0,517.3 802.5,513.9 805.9,506.4 809.5,491.3 813.4,479.6 817.6,475.7 821.4,478.8 825.5,481.8 829.3,482.9 833.5,483.4 837.2,483.8 841.4,486.8 845.6,490.5 849.4,495.5 853.6,503.9 857.5,513.1 861.6,512.3 865.3,502.2 869.5,488.8 873.7,479.6 877.4,477.9 881.6,479.1 885.4,479.6 889.6,482.9 893.5,487.1 897.5,489.1 901.3,491.3 905.5,484.6 909.4,484.1 913.6,489.1 917.3,501.4 921.4,513.9 925.3,523.1 929.3,529.8 933.5,532.0 936.5,532.4" fill="none" stroke="#ff0000" stroke-width="1" stroke-linejoin="round" shape-rendering="crispEdges"/>
<g shape-rendering="crispEdges" fill="#000">
<rect x="4" y="4" width="1235" height="1"/>
<rect x="4" y="464" width="1235" height="1"/>
<rect x="4" y="4" width="1" height="461"/>
<rect x="1238" y="4" width="1" height="461"/>
<rect x="4" y="466" width="1235" height="1"/>
<rect x="4" y="544" width="1235" height="1"/>
<rect x="4" y="466" width="1" height="79"/>
<rect x="1238" y="466" width="1" height="79"/>
<rect x="1239" y="14" width="2" height="1"/>
<rect x="1239" y="48" width="2" height="1"/>
<rect x="1239" y="83" width="2" height="1"/>
<rect x="1239" y="117" width="2" height="1"/>
<rect x="1239" y="151" width="2" height="1"/>
<rect x="1239" y="186" width="2" height="1"/>
<rect x="1239" y="220" width="2" height="1"/>
<rect x="1239" y="255" width="2" height="1"/>
<rect x="1239" y="289" width="2" height="1"/>
<rect x="1239" y="323" width="2" height="1"/>
<rect x="1239" y="358" width="2" height="1"/>
<rect x="1239" y="392" width="2" height="1"/>
<rect x="1239" y="427" width="2" height="1"/>
<rect x="1239" y="461" width="2" height="1"/>
<rect x="1239" y="468" width="1" height="1"/>
<rect x="1239" y="543" width="1" height="1"/>
<rect x="5" y="545" width="1" height="3"/>
<rect x="69" y="545" width="1" height="3"/>
<rect x="133" y="545" width="1" height="3"/>
<rect x="197" y="545" width="1" height="3"/>
<rect x="261" y="545" width="1" height="3"/>
<rect x="325" y="545" width="1" height="3"/>
<rect x="389" y="545" width="1" height="3"/>
<rect x="453" y="545" width="1" height="3"/>
<rect x="517" y="545" width="1" height="3"/>
<rect x="581" y="545" width="1" height="3"/>
<rect x="645" y="545" width="1" height="3"/>
<rect x="709" y="545" width="1" height="3"/>
<rect x="773" y="545" width="1" height="3"/>
<rect x="837" y="545" width="1" height="3"/>
<rect x="901" y="545" width="1" height="3"/>
</g>
<g shape-rendering="crispEdges">
<rect x="0" y="0" width="1280" height="1" fill="#a0a0a0"/><rect x="0" y="0" width="1" height="567" fill="#a0a0a0"/>
<rect x="1" y="1" width="1278" height="1" fill="#696969"/><rect x="1" y="1" width="1" height="565" fill="#696969"/>
<rect x="1278" y="1" width="1" height="565" fill="#e3e3e3"/><rect x="1" y="565" width="1278" height="1" fill="#e3e3e3"/>
<rect x="1279" y="0" width="1" height="567" fill="#fff"/><rect x="0" y="566" width="1280" height="1" fill="#fff"/>
</g>
<g shape-rendering="crispEdges" fill="#c0c0c0"><rect x="936" y="5" width="9" height="1"/><rect x="937" y="6" width="7" height="1"/><rect x="938" y="7" width="5" height="1"/><rect x="939" y="8" width="3" height="1"/><rect x="940" y="9" width="1" height="1"/></g>
</svg>
<div class="t" style="left:9px;top:7px;letter-spacing:-0.26px">OILUSD,H4  59.15 59.29 58.97 59.11</div>
<div class="t" style="left:9px;top:470px;letter-spacing:-0.34px">Sto(5,3,3) 19.5960 15.4854</div>
<div class="p" style="top:9px">62.45</div>
<div class="p" style="top:43px">61.85</div>
<div class="p" style="top:78px">61.25</div>
<div class="p" style="top:112px">60.65</div>
<div class="p" style="top:146px">60.05</div>
<div class="p" style="top:181px">59.45</div>
<div class="p" style="top:215px">58.85</div>
<div class="p" style="top:250px">58.25</div>
<div class="p" style="top:284px">57.65</div>
<div class="p" style="top:318px">57.05</div>
<div class="p" style="top:353px">56.45</div>
<div class="p" style="top:387px">55.85</div>
<div class="p" style="top:422px">55.25</div>
<div class="p" style="top:456px">54.65</div>
<div class="p" style="left:1242px;top:468px">100</div>
<div class="p" style="left:1241px;top:478px">80</div>
<div class="p" style="left:1241px;top:523px">20</div>
<div class="p" style="left:1242px;top:532px">0</div>
<div class="box" style="top:33px;background:#dc143c"><span>62.01</span></div>
<div class="box" style="top:119px;background:#dc143c"><span>60.51</span></div>
<div class="box" style="top:200px;background:#000"><span>59.11</span></div>
<div class="box" style="top:223px;background:#3cb371"><span>58.69</span></div>
<div class="t" style="left:4px;top:548px;letter-spacing:-0.35px">17 Nov 2025</div>
<div class="t" style="left:68px;top:548px;letter-spacing:-0.35px">20 Nov 08:00</div>
<div class="t" style="left:132px;top:548px;letter-spacing:-0.35px">25 Nov 00:00</div>
<div class="t" style="left:196px;top:548px;letter-spacing:-0.35px">1 Dec 00:00</div>
<div class="t" style="left:260px;top:548px;letter-spacing:-0.35px">3 Dec 16:00</div>
<div class="t" style="left:324px;top:548px;letter-spacing:-0.35px">8 Dec 08:00</div>
<div class="t" style="left:388px;top:548px;letter-spacing:-0.35px">11 Dec 00:00</div>
<div class="t" style="left:452px;top:548px;letter-spacing:-0.35px">15 Dec 16:00</div>
<div class="t" style="left:516px;top:548px;letter-spacing:-0.35px">18 Dec 08:00</div>
<div class="t" style="left:580px;top:548px;letter-spacing:-0.35px">23 Dec 00:00</div>
<div class="t" style="left:644px;top:548px;letter-spacing:-0.35px">26 Dec 20:00</div>
<div class="t" style="left:708px;top:548px;letter-spacing:-0.35px">2 Jan 12:00</div>
<div class="t" style="left:772px;top:548px;letter-spacing:-0.35px">7 Jan 04:00</div>
<div class="t" style="left:836px;top:548px;letter-spacing:-0.35px">9 Jan 20:00</div>
<div class="t" style="left:900px;top:548px;letter-spacing:-0.35px">14 Jan 12:00</div>
</body></html>
